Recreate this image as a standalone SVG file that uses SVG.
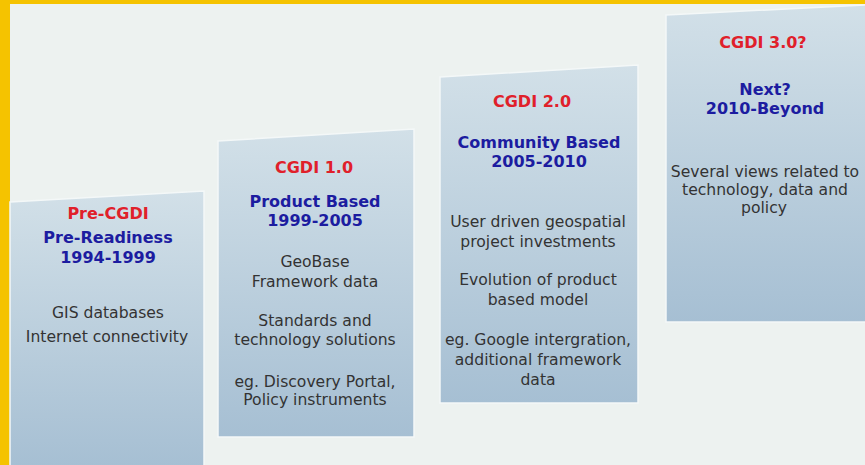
<svg xmlns="http://www.w3.org/2000/svg" width="865" height="465" viewBox="0 0 865 465">
<defs>
<linearGradient id="pg" x1="0" y1="0" x2="0" y2="1">
<stop offset="0" stop-color="#d2e0e8"/>
<stop offset="1" stop-color="#a6bfd3"/>
</linearGradient>
<style>
.panel{fill:url(#pg);stroke:#f4f8f8;stroke-width:1.5}
text{font-family:"DejaVu Sans",Verdana,sans-serif;text-anchor:middle}
.r{fill:#e0202a;font-weight:bold;font-size:16px}
.b{fill:#1c1ca0;font-weight:bold;font-size:16px}
.t{fill:#333333;font-size:15.6px}
</style>
</defs>
<rect x="0" y="0" width="865" height="465" fill="#f5c300"/>
<rect x="10" y="4" width="855" height="461" fill="#edf2f0"/>
<g id="pre-cgdi">
<polygon class="panel" points="10,202 204,191 204,466 10,466"/>
<text class="r" x="108" y="219">Pre-CGDI</text>
<text class="b" x="108" y="243">Pre-Readiness</text>
<text class="b" x="108" y="263">1994-1999</text>
<text class="t" x="108" y="318">GIS databases</text>
<text class="t" x="107" y="342">Internet connectivity</text>
</g>
<g id="cgdi-1">
<polygon class="panel" points="218,141 414,129 414,437 218,437"/>
<text class="r" x="314" y="173">CGDI 1.0</text>
<text class="b" x="315" y="207">Product Based</text>
<text class="b" x="315" y="226">1999-2005</text>
<text class="t" x="315" y="267">GeoBase</text>
<text class="t" x="315" y="287">Framework data</text>
<text class="t" x="315" y="326">Standards and</text>
<text class="t" x="315" y="345">technology solutions</text>
<text class="t" x="315" y="387">eg. Discovery Portal,</text>
<text class="t" x="315" y="405">Policy instruments</text>
</g>
<g id="cgdi-2">
<polygon class="panel" points="440,77 638,65 638,403 440,403"/>
<text class="r" x="532" y="107">CGDI 2.0</text>
<text class="b" x="539" y="148">Community Based</text>
<text class="b" x="539" y="167">2005-2010</text>
<text class="t" x="538" y="227">User driven geospatial</text>
<text class="t" x="538" y="247">project investments</text>
<text class="t" x="538" y="285">Evolution of product</text>
<text class="t" x="538" y="305">based model</text>
<text class="t" x="538" y="345">eg. Google intergration,</text>
<text class="t" x="538" y="365">additional framework</text>
<text class="t" x="538" y="385">data</text>
</g>
<g id="cgdi-3">
<polygon class="panel" points="666,15 866,5 866,322 666,322"/>
<text class="r" x="763" y="48">CGDI 3.0?</text>
<text class="b" x="765" y="95">Next?</text>
<text class="b" x="765" y="114">2010-Beyond</text>
<text class="t" x="765" y="177">Several views related to</text>
<text class="t" x="765" y="195">technology, data and</text>
<text class="t" x="764" y="213">policy</text>
</g>
<g id="connectors"/>
</svg>
